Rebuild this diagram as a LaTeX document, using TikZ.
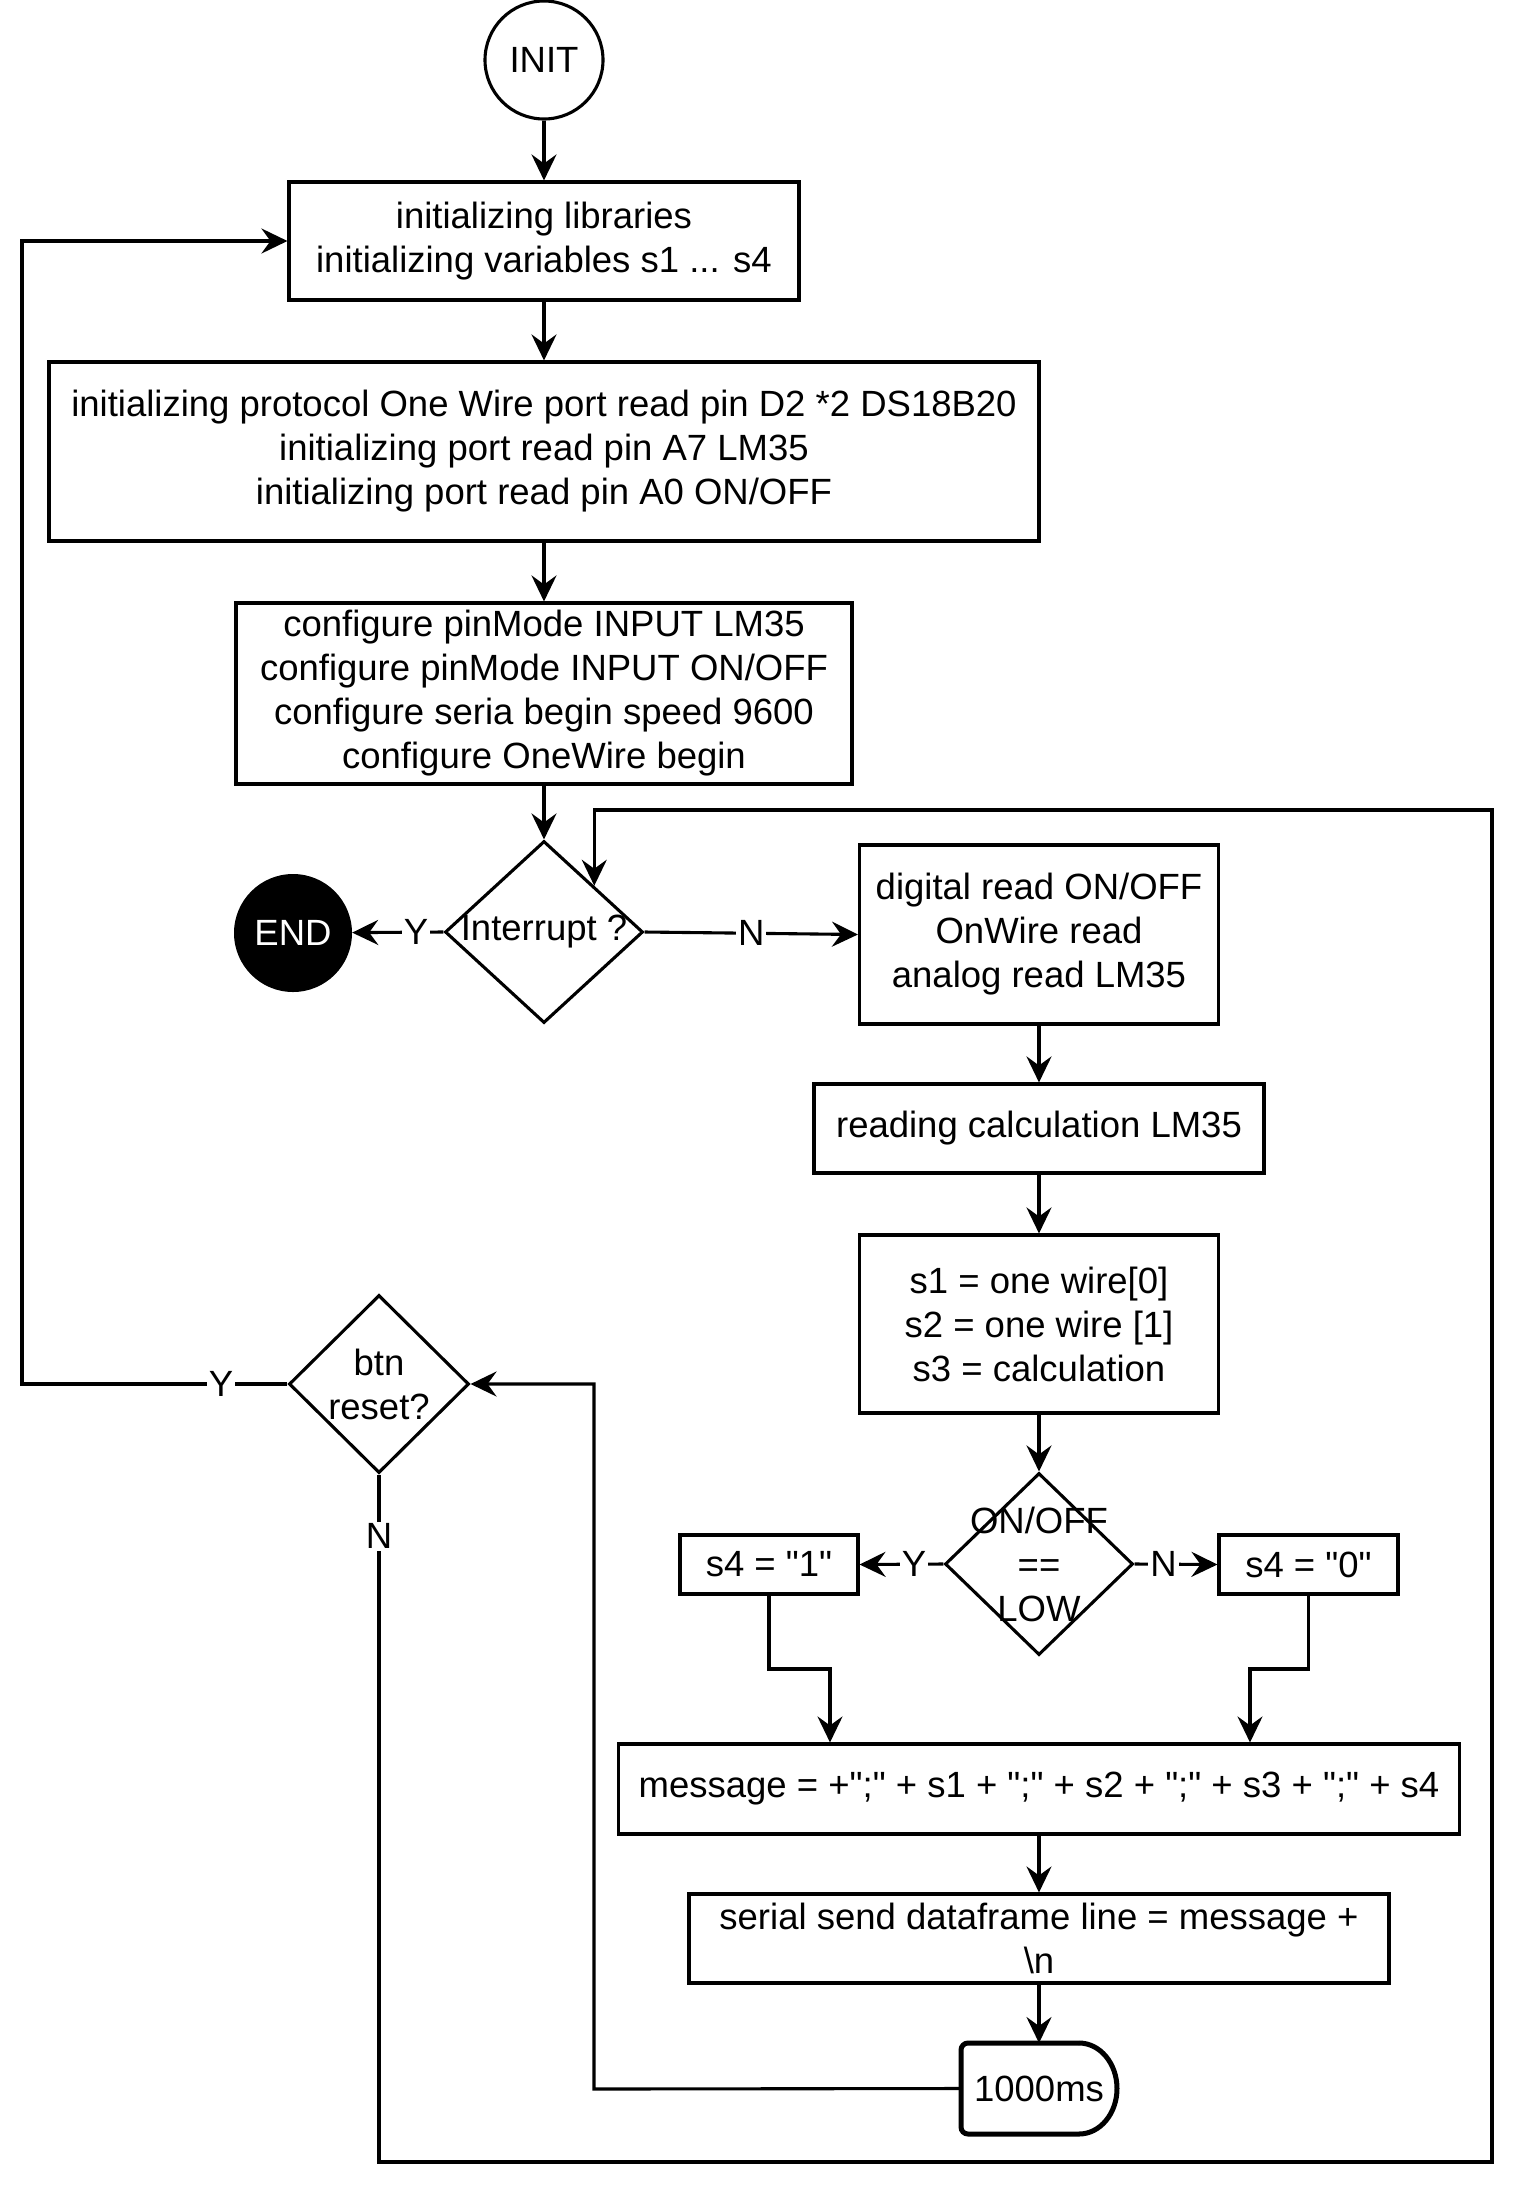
\documentclass[tikz,border=0pt]{standalone}
\usepackage{fontspec}
\setmainfont{Liberation Sans}[Ligatures=TeXOff]
\usetikzlibrary{shapes.geometric,arrows.meta}
\newcommand\dfont{\fontsize{36.5}{44}\selectfont}
\begin{document}
\begin{tikzpicture}[x=1pt,y=-1pt,font=\dfont,
  base/.style={draw, line width=3.1pt, align=center, inner sep=0pt, fill=white},
  proc/.style={base, rectangle},
  dec/.style={base, diamond},
  lbl/.style={fill=white, inner sep=2pt},
  ln/.style={line width=3.1pt},
  arr/.style={ln, -{Stealth[length=26pt,width=25pt,inset=9pt]}},
  delayline/.style={line width=5pt}
]
\useasboundingbox (0,0) rectangle (1521,2190);
\fill[white] (0,0) rectangle (1521,2190);

% nodes
\node[base, circle, minimum size=118pt] (init) at (544,60) {INIT};
\node[proc, minimum width=510pt, minimum height=118pt] (b1) at (544,241) {initializing libraries\\initializing variables s1 ... s4};
\node[proc, minimum width=990pt, minimum height=179pt] (b2) at (544,451.5) {initializing protocol One Wire port read pin D2 *2 DS18B20\\initializing port read pin A7 LM35\\initializing port read pin A0 ON/OFF};
\node[proc, minimum width=616pt, minimum height=181pt] (b3) at (544,693.5) {configure pinMode INPUT LM35\\configure pinMode INPUT ON/OFF\\configure seria begin speed 9600\\configure OneWire begin};
\node[dec, minimum width=198pt, minimum height=182pt, label={center:Interrupt ?}] (intr) at (544,932) {};
\node[circle, fill=black, text=white, minimum size=118pt, inner sep=0pt] (end) at (293,933) {END};
\node[proc, minimum width=359pt, minimum height=179pt] (dr) at (1039,934.5) {digital read ON/OFF\\OnWire read\\analog read LM35};
\node[proc, minimum width=450pt, minimum height=89pt] (rc) at (1039,1128.5) {reading calculation LM35};
\node[proc, minimum width=359pt, minimum height=178pt] (sv) at (1039,1324) {s1 = one wire[0]\\s2 = one wire [1]\\s3 = calculation};
\node[dec, minimum width=188pt, minimum height=182pt, label={[align=center]center:ON/OFF\\==\\LOW}] (oo) at (1039,1564) {};
\node[proc, minimum width=178pt, minimum height=59pt] (s41) at (769,1564.5) {s4 = "1"};
\node[proc, minimum width=179pt, minimum height=59pt] (s40) at (1308.5,1564.5) {s4 = "0"};
\node[proc, minimum width=841pt, minimum height=90pt] (msg) at (1039,1789) {message = +";" + s1 + ";" + s2 + ";" + s3 + ";" + s4};
\node[proc, minimum width=700pt, minimum height=89pt] (ser) at (1039,1938.5) {serial send dataframe line = message +\\\textbackslash n};
\node[minimum width=156pt, minimum height=91pt, inner sep=0pt, outer sep=0pt] (dl) at (1039,2088.5) {1000ms};
\node[dec, minimum width=180pt, minimum height=178pt, label={[align=center]center:btn\\reset?}] (btn) at (379,1384) {};

% delay shape
\draw[delayline, rounded corners=7pt] ([xshift=-38pt]dl.north east) -- (dl.north west) -- (dl.south west) -- ([xshift=-38pt]dl.south east);
\draw[delayline] ([xshift=-38pt]dl.north east) arc[start angle=90, end angle=-90, x radius=38pt, y radius=45.5pt];

% connectors
\draw[arr] (init) -- (b1);
\draw[arr] (b1) -- (b2);
\draw[arr] (b2) -- (b3);
\draw[arr] (b3) -- (intr);
\draw[arr] (intr.west) -- node[lbl, pos=0.3]{Y} (end);
\draw[arr] (intr.east) -- node[lbl]{N} (dr.west);
\draw[arr] (dr) -- (rc);
\draw[arr] (rc) -- (sv);
\draw[arr] (sv) -- (oo);
\draw[arr] (oo.west) -- node[lbl, pos=0.35]{Y} (s41.east);
\draw[arr] (oo.east) -- node[lbl, pos=0.35]{N} (s40.west);
\coordinate (j1) at (830,1669);
\coordinate (j0) at (1250,1669);
\draw[arr] (s41.south) |- (j1) -- (j1 |- msg.north);
\draw[arr] (s40.south) |- (j0) -- (j0 |- msg.north);
\draw[arr] (msg) -- (ser);
\draw[arr] (ser) -- (dl);
\coordinate (d1) at (594,2089);
\draw[arr] (dl.west) -- (d1) |- (btn.east);
\coordinate (lp1) at (379,2162);
\coordinate (lp2) at (1492,2162);
\coordinate (lp3) at (1492,810);
\draw[arr] (btn.south) -- node[lbl, pos=0.09]{N} (lp1) -- (lp2) -- (lp3) -| (intr.north east);
\coordinate (lf) at (22,1384);
\draw[arr] (btn.west) -- node[lbl, pos=0.25]{Y} (lf) |- (b1.west);
\end{tikzpicture}
\end{document}
